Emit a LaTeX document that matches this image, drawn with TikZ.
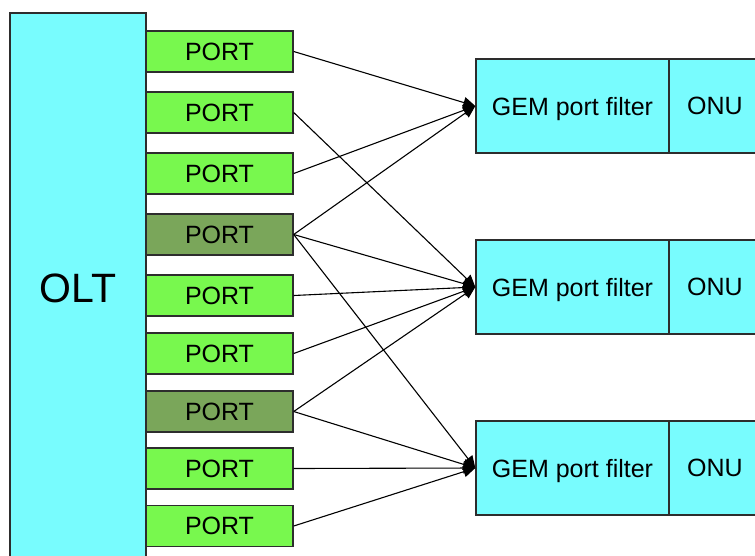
\documentclass[tikz,border=0pt]{standalone}
\usepackage{fontspec}
\setmainfont{Liberation Sans}
\usetikzlibrary{arrows.meta}
\definecolor{boxcyan}{RGB}{120,252,254}
\definecolor{portgreen}{RGB}{120,248,78}
\definecolor{portdark}{RGB}{122,166,90}
\definecolor{edgegray}{RGB}{45,45,45}
\tikzset{
  box/.style={draw=edgegray, line width=1.4pt, inner sep=0pt, anchor=center, text depth=0pt},
  oltbox/.style={box, fill=boxcyan, minimum width=136pt, minimum height=550pt, font=\fontsize{41}{41}\selectfont},
  portbox/.style={box, fill=portgreen, minimum width=147pt, minimum height=41pt, font=\fontsize{25}{25}\selectfont},
  portsel/.style={portbox, fill=portdark},
  gembox/.style={box, fill=boxcyan, minimum width=193pt, minimum height=94pt, font=\fontsize{25}{25}\selectfont},
  onubox/.style={box, fill=boxcyan, minimum width=92pt, minimum height=94pt, font=\fontsize{25}{25}\selectfont},
  flow/.style={line width=1.1pt, -{Triangle[length=12pt,width=11pt]}}
}
\begin{document}
\begin{tikzpicture}[x=1pt, y=-1pt]
\clip (0,0) rectangle (755,555);
\fill[white] (0,0) rectangle (755,555);

% optical line terminal
\node[oltbox] (olt) at (78,288) {OLT};

% ports of the OLT
\node[portbox] (p1) at (219.5,51.5)  {PORT};
\node[portbox] (p2) at (219.5,112.5) {PORT};
\node[portbox] (p3) at (219.5,173.5) {PORT};
\node[portsel] (p4) at (219.5,234.5) {PORT};
\node[portbox] (p5) at (219.5,295.5) {PORT};
\node[portbox] (p6) at (219.5,353.5) {PORT};
\node[portsel] (p7) at (219.5,411.5) {PORT};
\node[portbox] (p8) at (219.5,468.5) {PORT};
\node[portbox] (p9) at (219.5,526)   {PORT};

% ONUs with their GEM port filters
\node[gembox] (g1) at (572.5,106) {GEM port filter};
\node[onubox] (o1) at (715,106) {ONU};
\node[gembox] (g2) at (572.5,287) {GEM port filter};
\node[onubox] (o2) at (715,287) {ONU};
\node[gembox] (g3) at (572.5,468) {GEM port filter};
\node[onubox] (o3) at (715,468) {ONU};

% port-to-filter mapping
\foreach \p in {p1,p3,p4} \draw[flow] (\p.east) -- (g1.west);
\foreach \p in {p2,p4,p5,p6,p7} \draw[flow] (\p.east) -- (g2.west);
\foreach \p in {p4,p7,p8,p9} \draw[flow] (\p.east) -- (g3.west);
\end{tikzpicture}
\end{document}
